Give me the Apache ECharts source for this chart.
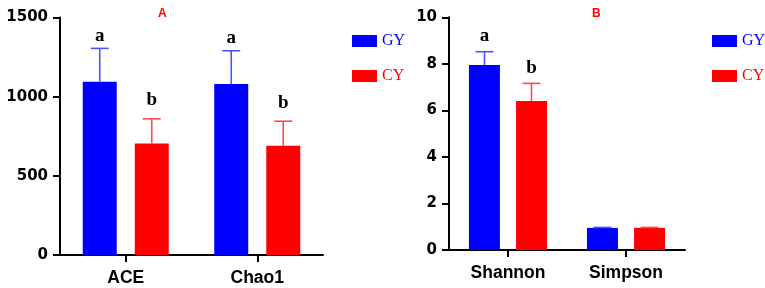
<!DOCTYPE html>
<html><head><meta charset="utf-8">
<script src="https://cdn.jsdelivr.net/npm/echarts@6/dist/echarts.min.js"></script>
<style>html,body{margin:0;padding:0;background:#fff}#c{width:765px;height:288px}</style>
</head><body><div id="c"></div>
<script>
// Panel A
var catsA = ['ACE', 'Chao1'];
var gyA = [1095, 1080];
var gyAUpper = [1305, 1290];
var cyA = [705, 690];
var cyAUpper = [860, 845];
var gyALetters = ['a', 'a'];
var cyALetters = ['b', 'b'];
var ticksA = [0, 500, 1000, 1500];
// Panel B
var catsB = ['Shannon', 'Simpson'];
var gyB = [7.95, 0.95];
var gyBUpper = [8.52, 0.97];
var cyB = [6.4, 0.95];
var cyBUpper = [7.16, 0.97];
var gyBLetters = ['a', ''];
var cyBLetters = ['b', ''];
var ticksB = [0, 2, 4, 6, 8, 10];

var BLUE = '#0000ff', RED = '#ff0000';
var BLUE_ERR = '#4a55ff', RED_ERR = '#ff4a4a';

function errSeries(name, xi, yi, vals, uppers, letters, offset, color, liftPx) {
  return {
    name: name, type: 'custom', xAxisIndex: xi, yAxisIndex: yi, z: 5,
    data: vals.map(function (v, i) { return [i, v, uppers[i], letters[i]]; }),
    renderItem: function (params, api) {
      var idx = api.value(0);
      var base = api.coord([idx, api.value(1)]);
      var top = api.coord([idx, api.value(2)]);
      var x = base[0] + offset;
      var half = 9;
      var st = { stroke: color, lineWidth: 1.6 };
      var children = [
        { type: 'line', shape: { x1: x, y1: base[1], x2: x, y2: top[1] }, style: st },
        { type: 'line', shape: { x1: x - half, y1: top[1], x2: x + half, y2: top[1] }, style: st }
      ];
      var lt = letters[idx];
      if (lt) {
        children.push({ type: 'text', style: { text: lt, x: x, y: top[1] - liftPx, align: 'center', verticalAlign: 'bottom',
          fill: '#000', font: 'bold 19px "Liberation Serif", "Times New Roman", serif' } });
      }
      return { type: 'group', children: children };
    }
  };
}

function plain(v) { return String(v); }
var axisLabelY = { color: '#000', fontFamily: 'DejaVu Sans', fontWeight: 'bold', fontSize: 15, margin: 12, formatter: plain };
var axisLabelX = { color: '#000', fontFamily: '"Liberation Sans", Arial, sans-serif', fontWeight: 'bold', fontSize: 17.5, margin: 14 };
var axisLine = { show: true, lineStyle: { color: '#000', width: 2 } };
var axisTick = { show: true, length: 7, lineStyle: { color: '#000', width: 2 } };

var legendText = { fontFamily: '"Liberation Serif", serif', fontSize: 16 };

var chart = echarts.init(document.getElementById('c'), null, { renderer: 'canvas' });
chart.setOption({
  backgroundColor: '#fff',
  animation: false,
  title: [
    { text: 'A', left: 153, top: 3, textStyle: { color: RED, fontSize: 12, fontWeight: 'bold', fontFamily: 'Liberation Sans' } },
    { text: 'B', left: 587, top: 3, textStyle: { color: RED, fontSize: 12, fontWeight: 'bold', fontFamily: 'Liberation Sans' } }
  ],
  legend: [
    { orient: 'vertical', left: 347, top: 28, itemWidth: 25, itemHeight: 12, itemGap: 19, icon: 'rect',
      textStyle: legendText,
      data: [{ name: 'GY', textStyle: { color: BLUE } }, { name: 'CY', textStyle: { color: RED } }] },
    { orient: 'vertical', left: 707, top: 28, itemWidth: 25, itemHeight: 12, itemGap: 19, icon: 'rect',
      textStyle: legendText,
      data: [{ name: 'GY', textStyle: { color: BLUE } }, { name: 'CY', textStyle: { color: RED } }] }
  ],
  grid: [
    { left: 60, right: 442, top: 17.5, bottom: 33, containLabel: false },
    { left: 449, right: 80, top: 17.3, bottom: 38, containLabel: false }
  ],
  xAxis: [
    { type: 'category', gridIndex: 0, data: catsA, axisLine: axisLine, axisTick: Object.assign({ alignWithLabel: true }, axisTick), axisLabel: axisLabelX },
    { type: 'category', gridIndex: 1, data: catsB, axisLine: axisLine, axisTick: Object.assign({ alignWithLabel: true }, axisTick), axisLabel: axisLabelX }
  ],
  yAxis: [
    { type: 'value', gridIndex: 0, min: ticksA[0], max: ticksA[ticksA.length - 1], interval: ticksA[1] - ticksA[0],
      axisLine: axisLine, axisTick: axisTick, axisLabel: axisLabelY, splitLine: { show: false } },
    { type: 'value', gridIndex: 1, min: ticksB[0], max: ticksB[ticksB.length - 1], interval: ticksB[1] - ticksB[0],
      axisLine: axisLine, axisTick: axisTick, axisLabel: axisLabelY, splitLine: { show: false } }
  ],
  series: [
    { name: 'GY', type: 'bar', xAxisIndex: 0, yAxisIndex: 0, data: gyA, barWidth: 34, barGap: '53%', itemStyle: { color: BLUE } },
    { name: 'CY', type: 'bar', xAxisIndex: 0, yAxisIndex: 0, data: cyA, barWidth: 34, barGap: '53%', itemStyle: { color: RED } },
    { name: 'GY', type: 'bar', xAxisIndex: 1, yAxisIndex: 1, data: gyB, barWidth: 31, barGap: '52%', itemStyle: { color: BLUE } },
    { name: 'CY', type: 'bar', xAxisIndex: 1, yAxisIndex: 1, data: cyB, barWidth: 31, barGap: '52%', itemStyle: { color: RED } },
    errSeries('GY err A', 0, 0, gyA, gyAUpper, gyALetters, -26, BLUE_ERR, 3),
    errSeries('CY err A', 0, 0, cyA, cyAUpper, cyALetters, 26, RED_ERR, 9),
    errSeries('GY err B', 1, 1, gyB, gyBUpper, gyBLetters, -23.5, BLUE_ERR, 6),
    errSeries('CY err B', 1, 1, cyB, cyBUpper, cyBLetters, 23.5, RED_ERR, 6)
  ]
});
</script>
</body></html>
